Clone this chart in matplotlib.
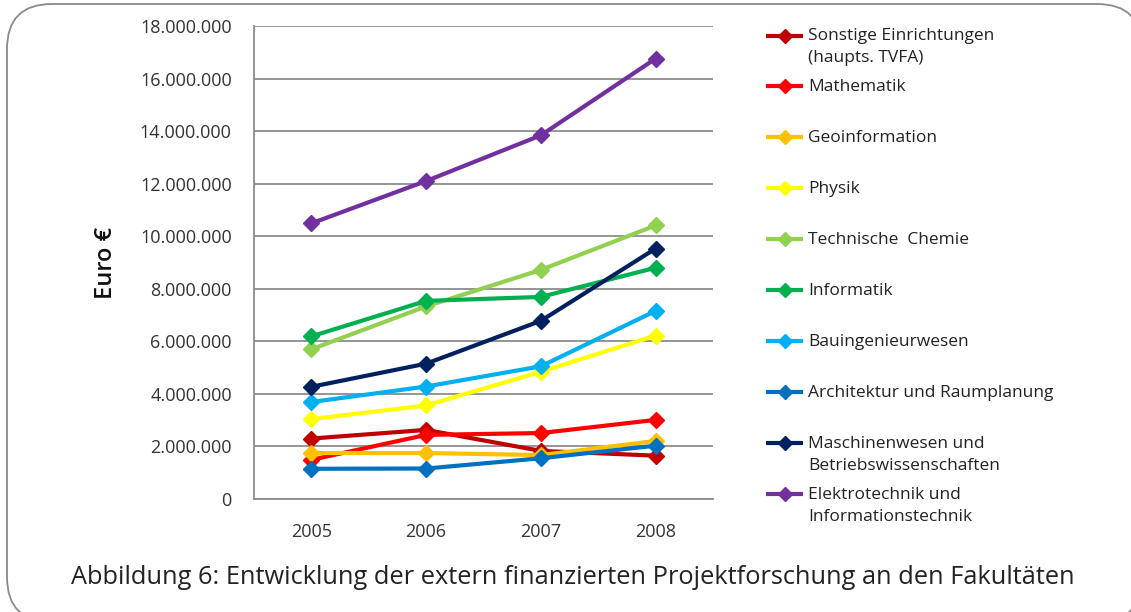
import numpy as np
import matplotlib.pyplot as plt
from matplotlib.patches import FancyBboxPatch
from matplotlib.ticker import FuncFormatter

plt.rcParams['font.family'] = ['Open Sans', 'DejaVu Sans']

years = ['2005', '2006', '2007', '2008']

labels = [
    'Sonstige Einrichtungen\n(haupts. TVFA)',
    'Mathematik',
    'Geoinformation',
    'Physik',
    'Technische  Chemie',
    'Informatik',
    'Bauingenieurwesen',
    'Architektur und Raumplanung',
    'Maschinenwesen und\nBetriebswissenschaften',
    'Elektrotechnik und\nInformationstechnik',
]
colors = ['#C00000', '#FF0000', '#FFC000', '#FFFF00', '#92D050',
          '#00B050', '#00B0F0', '#0070C0', '#002060', '#7030A0']

# Euro per year
sonstige = [2.30e6, 2.63e6, 1.83e6, 1.65e6]
mathematik = [1.49e6, 2.44e6, 2.51e6, 3.01e6]
geoinformation = [1.75e6, 1.75e6, 1.67e6, 2.21e6]
physik = [3.04e6, 3.56e6, 4.84e6, 6.22e6]
tech_chemie = [5.70e6, 7.33e6, 8.72e6, 10.41e6]
informatik = [6.19e6, 7.54e6, 7.69e6, 8.80e6]
bauing = [3.69e6, 4.28e6, 5.05e6, 7.16e6]
architektur = [1.15e6, 1.16e6, 1.55e6, 2.03e6]
maschinen = [4.27e6, 5.15e6, 6.78e6, 9.53e6]
elektro = [10.49e6, 12.10e6, 13.84e6, 16.76e6]

series = [sonstige, mathematik, geoinformation, physik, tech_chemie,
          informatik, bauing, architektur, maschinen, elektro]

W, H = 1131, 612
fig = plt.figure(figsize=(W / 100, H / 100), dpi=100)

# background layer in pixel units: rounded frame, legend, caption
bg = fig.add_axes([0, 0, 1, 1], zorder=0)
bg.set_xlim(0, W)
bg.set_ylim(H, 0)
bg.axis('off')
frame = FancyBboxPatch((7, 4), 1135, 618, boxstyle='round,pad=0,rounding_size=45',
                       fc='white', ec='#8a8a8a', lw=1.3)
bg.add_patch(frame)

ax = fig.add_axes([254 / W, (H - 499) / H, 459 / W, 473 / H], zorder=1)
ax.patch.set_alpha(0)
x = np.arange(len(years))
for vals, c in zip(series, colors):
    ax.plot(x, vals, color=c, lw=3, marker='D', ms=8.5, mec=c, mfc=c, zorder=3)

ax.set_xlim(-0.5, len(years) - 0.5)
ax.set_ylim(0, 18e6)
ax.set_yticks(np.arange(0, 18e6 + 1, 2e6))
ax.yaxis.set_major_formatter(FuncFormatter(lambda v, p: f'{int(v):,}'.replace(',', '.')))
ax.set_xticks(x)
ax.set_xticklabels(years)
ax.tick_params(length=0, labelsize=13, colors='#333333')
ax.tick_params(axis='y', pad=16)
ax.tick_params(axis='x', pad=17)
ax.grid(axis='y', color='#8c8c8c', lw=1.3)
ax.set_axisbelow(True)
for s in ['top', 'right']:
    ax.spines[s].set_visible(False)
for s in ['left', 'bottom']:
    ax.spines[s].set_color('#8c8c8c')
    ax.spines[s].set_linewidth(1.3)
ax.set_ylabel('Euro €', fontsize=17, fontweight='semibold', color='#111111')
ax.yaxis.set_label_coords((118 - 254) / 459, 0.5)

# legend drawn by hand so the markers line up with the first text line
for i, (lab, c) in enumerate(zip(labels, colors)):
    yy = 35.5 + i * 50.9
    bg.plot([766, 803], [yy, yy], color=c, lw=3, solid_capstyle='butt')
    bg.plot([784.5], [yy], marker='D', ms=7, color=c)
    bg.text(808, yy - 7, lab, fontsize=12.5, color='#222222', va='top', ha='left',
            linespacing=1.5)

bg.text(573, 577, 'Abbildung 6: Entwicklung der extern finanzierten Projektforschung an den Fakultäten',
        fontsize=18.3, color='#222222', ha='center', va='center')

fig.savefig('out.png', dpi=100)
